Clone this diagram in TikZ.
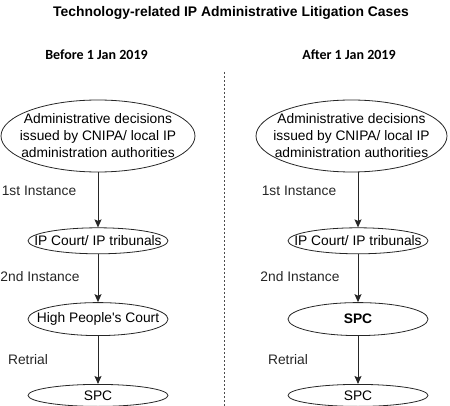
\documentclass[tikz,border=0pt]{standalone}
\usepackage{fontspec}
\setmainfont{Liberation Sans}
\newfontfamily\headfont{Carlito}
\usepackage{tikz}
\usetikzlibrary{arrows.meta,positioning,shapes.geometric}
\newcommand{\lblsize}{\fontsize{13.8}{17}\selectfont}
\tikzset{
  ell/.style={ellipse, draw=black!85, line width=0.8pt, inner xsep=-20pt, inner ysep=-3pt,
              minimum width=140pt, minimum height=#1,
              font=\lblsize, text centered, align=center},
  ell/.default=33pt,
  arr/.style={-{Stealth[length=8pt, width=7pt, inset=1.5pt]}, line width=1pt, black!85},
  lbl/.style={font=\lblsize, inner sep=0pt},
  head/.style={font=\headfont\bfseries\fontsize{14}{17}\selectfont, inner sep=0pt},
}

\begin{document}
\begin{tikzpicture}[x=1pt, y=1pt]
        \useasboundingbox (0,0) rectangle (450,-406);
        % headings
        \node[font=\bfseries\fontsize{13.9}{17}\selectfont, inner sep=0pt] (title) at (231,-13)
              {Technology-related IP Administrative Litigation Cases};
        \node[head] (befL) at (96.5,-55) {Before 1 Jan 2019};
        \node[head] (aftR) at (349,-55) {After 1 Jan 2019};
        \coordinate (divtop) at (224,-72);
        \coordinate (divbot) at (224,-406);
        \draw[black!70, line width=0.8pt, dash pattern=on 2pt off 2pt] (divtop) -- (divbot);

        % before
        \node[ell=72pt, minimum width=194pt] (admL) at (98,-136)
              {Administrative decisions\\issued by CNIPA/ local IP\\administration authorities};
        \node[ell=26pt, below=55pt of admL] (courtL) {IP Court/ IP tribunals};
        \node[ell, below=48pt of courtL] (highL) {High People\textquotesingle s Court};
        \node[ell=22pt, below=48pt of highL] (spcL) {SPC};
        \draw[arr] (admL) -- node[lbl, midway, xshift=-59pt, yshift=9.5pt] {1st Instance} (courtL);
        \draw[arr] (courtL) -- node[lbl, midway, xshift=-58pt, yshift=2pt] {2nd Instance} (highL);
        \draw[arr] (highL) -- node[lbl, midway, xshift=-70pt] {Retrial} (spcL);

        % after
        \node[ell=72pt, minimum width=191pt] (admR) at (351.5,-136)
              {Administrative decisions\\issued by CNIPA/ local IP\\administration authorities};
        \node[ell=26pt, below=55pt of admR, xshift=6.5pt] (courtR) {IP Court/ IP tribunals};
        \node[ell, below=48pt of courtR, font=\lblsize\bfseries] (spcR) {SPC};
        \node[ell=22pt, below=48pt of spcR] (retR) {SPC};
        \draw[arr] (admR.south -| courtR) -- node[lbl, midway, xshift=-59pt, yshift=9.5pt] {1st Instance} (courtR);
        \draw[arr] (courtR) -- node[lbl, midway, xshift=-58pt, yshift=2pt] {2nd Instance} (spcR);
        \draw[arr] (spcR) -- node[lbl, midway, xshift=-70pt] {Retrial} (retR);
      \end{tikzpicture}
\end{document}
